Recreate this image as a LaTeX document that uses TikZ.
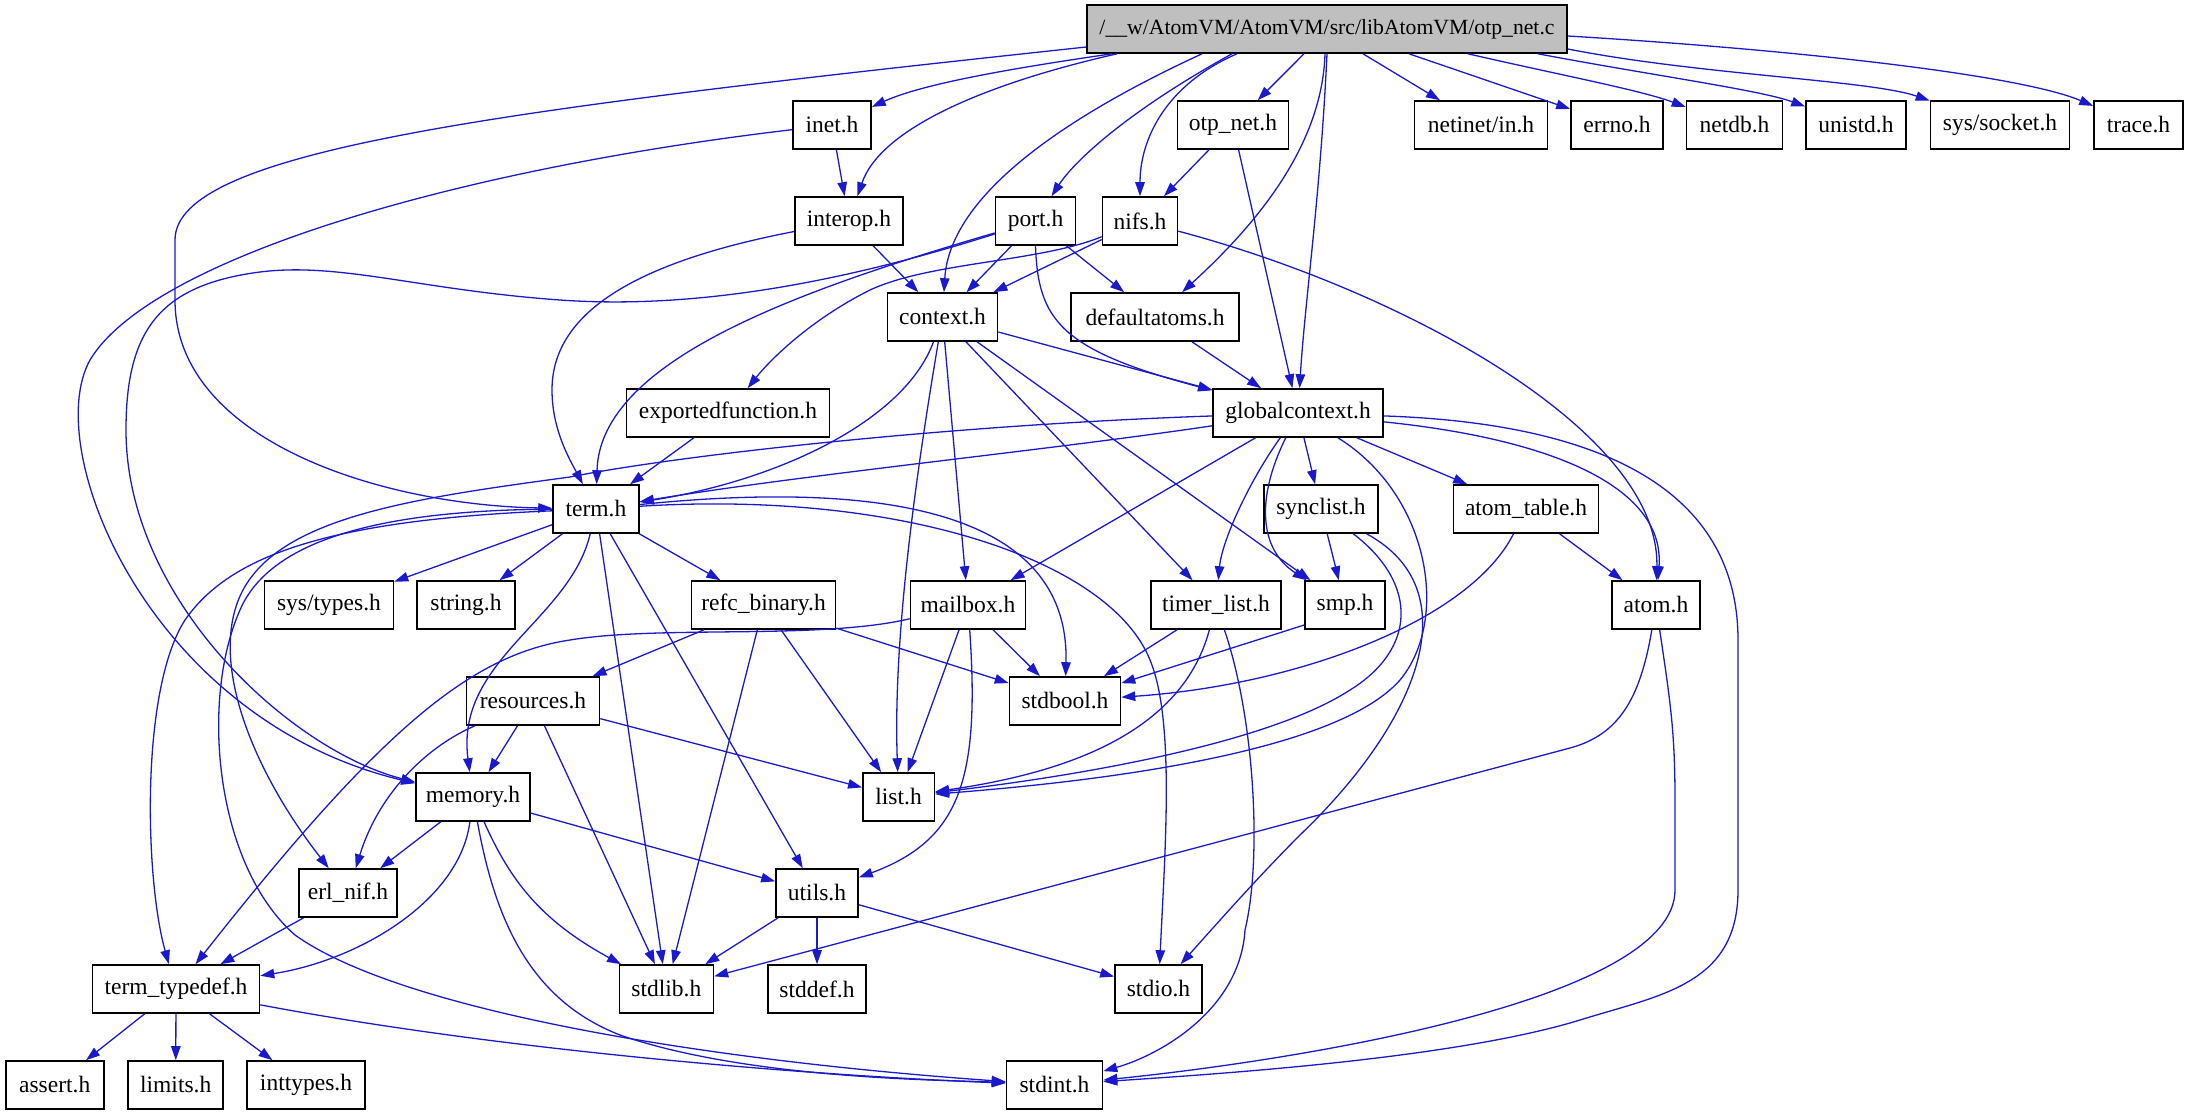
\documentclass[tikz,border=0pt]{standalone}
\usepackage{fontspec}
\setmainfont{Liberation Serif}
\usetikzlibrary{arrows.meta}
\definecolor{eblue}{RGB}{26,26,204}
\definecolor{rootgray}{RGB}{191,191,191}
\begin{document}
\begin{tikzpicture}[x=1pt,y=-1pt,
  box/.style={draw=black,line width=1.6pt,fill=white,minimum height=48pt,inner sep=0pt,font=\fontsize{23.5}{28}\selectfont},
  e/.style={draw=eblue,line width=1.3pt,-{Triangle[length=14pt,width=9.5pt]}}]
\useasboundingbox (0,0) rectangle (2189,1115);
% row 0
\node[box,minimum width=480pt,fill=rootgray,font=\fontsize{21.7}{26}\selectfont] (root) at (1327,29) {/\_\_w/AtomVM/AtomVM/src/libAtomVM/otp\_net.c};
% row 1
\node[box,minimum width=78pt] (inet) at (832,125) {inet.h};
\node[box,minimum width=111pt] (otpneth) at (1233,125) {otp\_net.h};
\node[box,minimum width=133pt] (netinet) at (1481,125) {netinet/in.h};
\node[box,minimum width=92pt] (errno) at (1617,125) {errno.h};
\node[box,minimum width=96pt] (netdb) at (1734.5,125) {netdb.h};
\node[box,minimum width=100pt] (unistd) at (1856,125) {unistd.h};
\node[box,minimum width=139pt] (syssocket) at (2000,125) {sys/socket.h};
\node[box,minimum width=89pt] (trace) at (2138.5,125) {trace.h};
% row 2
\node[box,minimum width=108pt] (interop) at (849,221) {interop.h};
\node[box,minimum width=80pt] (port) at (1035.5,221) {port.h};
\node[box,minimum width=75pt] (nifs) at (1140,221) {nifs.h};
% row 3
\node[box,minimum width=110pt] (context) at (942.5,317) {context.h};
\node[box,minimum width=168pt] (defaultatoms) at (1155,317) {defaultatoms.h};
% row 4
\node[box,minimum width=203pt] (exportedfunction) at (728,413) {exportedfunction.h};
\node[box,minimum width=170pt] (globalcontext) at (1298,413) {globalcontext.h};
% row 5
\node[box,minimum width=86pt] (term) at (596,509) {term.h};
\node[box,minimum width=114pt] (synclist) at (1321,509) {synclist.h};
\node[box,minimum width=145pt] (atomtable) at (1526,509) {atom\_table.h};
% row 6
\node[box,minimum width=129pt] (systypes) at (329,605) {sys/types.h};
\node[box,minimum width=98pt] (string) at (466,605) {string.h};
\node[box,minimum width=144pt] (refc) at (763.6,605) {refc\_binary.h};
\node[box,minimum width=115pt] (mailbox) at (968,605) {mailbox.h};
\node[box,minimum width=130pt] (timerlist) at (1216,605) {timer\_list.h};
\node[box,minimum width=80pt] (smp) at (1345,605) {smp.h};
\node[box,minimum width=88pt] (atom) at (1656,605) {atom.h};
% row 7
\node[box,minimum width=133pt] (resources) at (533,701) {resources.h};
\node[box,minimum width=111pt] (stdbool) at (1065,701) {stdbool.h};
% row 8
\node[box,minimum width=114pt] (memory) at (473,797) {memory.h};
\node[box,minimum width=71.5pt] (list) at (898.6,797) {list.h};
% row 9
\node[box,minimum width=98pt] (erlnif) at (348,893) {erl\_nif.h};
\node[box,minimum width=82pt] (utils) at (817,893) {utils.h};
% row 10
\node[box,minimum width=167pt] (termtypedef) at (176,989) {term\_typedef.h};
\node[box,minimum width=94pt] (stdlib) at (666.4,989) {stdlib.h};
\node[box,minimum width=98pt] (stddef) at (817,989) {stddef.h};
\node[box,minimum width=87pt] (stdio) at (1158.5,989) {stdio.h};
% row 11
\node[box,minimum width=98pt] (assert) at (54.7,1085) {assert.h};
\node[box,minimum width=95pt] (limits) at (175.7,1085) {limits.h};
\node[box,minimum width=118pt] (inttypes) at (306,1085) {inttypes.h};
\node[box,minimum width=96pt] (stdint) at (1054.5,1085) {stdint.h};

% ---- edges from root
\draw[e] ([yshift=-18pt]root.west) .. controls (500,110) and (175,150) .. (175,240) -- (175,300) .. controls (175,440) and (380,505) .. (term);
\draw[e] ([xshift=-215pt]root.south) .. controls (1000,70) and (920,85) .. (inet);
\draw[e] ([xshift=-210pt]root.south) .. controls (980,85) and (880,130) .. (interop);
\draw[e] ([xshift=-125pt]root.south) .. controls (1080,110) and (950,190) .. (context);
\draw[e] ([xshift=-95pt]root.south) .. controls (1130,110) and (1075,160) .. (port);
\draw[e] ([xshift=-90pt]root.south) .. controls (1165,85) and (1140,140) .. (nifs);
\draw[e] ([xshift=-23pt]root.south) -- (otpneth);
\draw[e] ([xshift=-2pt]root.south) .. controls (1322,150) and (1250,230) .. (defaultatoms);
\draw[e] (root.south) .. controls (1320,200) and (1305,300) .. (globalcontext);
\draw[e] ([xshift=36pt]root.south) -- (netinet);
\draw[e] ([xshift=82pt]root.south) -- (errno);
\draw[e] ([xshift=141pt]root.south) .. controls (1560,75) and (1640,90) .. (netdb);
\draw[e] ([xshift=211pt]root.south) .. controls (1650,75) and (1760,90) .. (unistd);
\draw[e] ([yshift=-20pt]root.east) .. controls (1700,75) and (1870,80) .. (syssocket);
\draw[e] ([yshift=-7pt]root.east) .. controls (1800,50) and (2020,75) .. (trace);

% ---- inet
\draw[e] (inet) -- (interop);
\draw[e] (inet) .. controls (450,170) and (150,260) .. (90,360) .. controls (40,450) and (150,720) .. (memory);
% ---- port
\draw[e] (port) -- (context);
\draw[e] (port) -- (defaultatoms);
\draw[e] (port.south) .. controls (1038,320) and (1060,350) .. (globalcontext);
\draw[e] (port) .. controls (800,290) and (600,360) .. (term);
\draw[e] (port) .. controls (850,280) and (700,310) .. (560,300) .. controls (420,290) and (340,262) .. (260,272) .. controls (160,285) and (126,330) .. (126,430) .. controls (126,600) and (290,750) .. (memory);
% ---- nifs
\draw[e] (nifs) -- (context);
\draw[e] (nifs) .. controls (1040,262) and (930,262) .. (870,290) .. controls (810,320) and (770,360) .. (exportedfunction);
\draw[e] (nifs) .. controls (1400,290) and (1660,430) .. (atom);
% ---- otp_net.h
\draw[e] (otpneth) -- (nifs);
\draw[e] (otpneth) -- (globalcontext);
% ---- interop
\draw[e] (interop) -- (context);
\draw[e] (interop) .. controls (620,265) and (552,320) .. (552,390) .. controls (552,430) and (570,460) .. (term);
% ---- context
\draw[e] (context) -- (globalcontext);
\draw[e] (context) .. controls (905,420) and (780,480) .. (term);
\draw[e] (context) .. controls (915,480) and (893,640) .. (list);
\draw[e] (context) -- (mailbox);
\draw[e] (context) -- (timerlist);
\draw[e] (context) -- (smp);
% ---- defaultatoms, exportedfunction
\draw[e] (defaultatoms) -- (globalcontext);
\draw[e] (exportedfunction) -- (term);
% ---- globalcontext
\draw[e] (globalcontext) .. controls (1050,450) and (800,475) .. (term);
\draw[e] (globalcontext) .. controls (950,425) and (680,455) .. (570,477) .. controls (400,500) and (260,520) .. (235,610) .. controls (215,680) and (260,780) .. (erlnif);
\draw[e] (globalcontext) -- (mailbox);
\draw[e] (globalcontext) .. controls (1250,480) and (1222,540) .. (timerlist);
\draw[e] (globalcontext) .. controls (1255,500) and (1260,550) .. (smp);
\draw[e] (globalcontext) -- (synclist);
\draw[e] (globalcontext) .. controls (1430,495) and (1450,620) .. (1400,680) .. controls (1330,760) and (1050,785) .. (list);
\draw[e] (globalcontext) -- (atomtable);
\draw[e] (globalcontext) .. controls (1560,440) and (1665,490) .. (atom);
\draw[e] (globalcontext) .. controls (1650,425) and (1738,520) .. (1738,640) -- (1738,890) .. controls (1738,985) and (1660,995) .. (1580,1020) .. controls (1450,1060) and (1200,1075) .. (stdint);
% ---- synclist
\draw[e] (synclist) -- (smp);
\draw[e] (synclist) .. controls (1420,585) and (1415,650) .. (1350,690) .. controls (1250,755) and (1000,785) .. (list);
\draw[e] (synclist) .. controls (1470,590) and (1420,720) .. (1300,835) .. controls (1260,875) and (1220,920) .. (stdio);
% ---- term
\draw[e] (term) -- (systypes);
\draw[e] (term) -- (string);
\draw[e] (term) -- (refc);
\draw[e] (term) .. controls (330,520) and (230,555) .. (185,620) .. controls (140,690) and (145,880) .. (termtypedef);
\draw[e] (term) .. controls (380,510) and (270,540) .. (240,610) .. controls (200,700) and (215,865) .. (295,935) .. controls (400,1010) and (700,1060) .. (stdint);
\draw[e] (term) .. controls (570,620) and (455,660) .. (memory);
\draw[e] (term) -- (stdlib);
\draw[e] (term) -- (utils);
\draw[e] (term) .. controls (880,480) and (1070,510) .. (stdbool);
\draw[e] (term) .. controls (900,490) and (1110,560) .. (1150,660) .. controls (1175,720) and (1165,850) .. (stdio);
% ---- refc_binary
\draw[e] (refc) -- (resources);
\draw[e] (refc) -- (stdbool);
\draw[e] (refc) -- (stdlib);
\draw[e] (refc) -- (list);
% ---- mailbox
\draw[e] (mailbox) .. controls (820,640) and (660,625) .. (570,640) .. controls (470,655) and (380,730) .. (termtypedef);
\draw[e] (mailbox) -- (list);
\draw[e] (mailbox) -- (stdbool);
\draw[e] (mailbox) .. controls (980,780) and (960,840) .. (utils);
% ---- timer_list
\draw[e] (timerlist) -- (stdbool);
\draw[e] (timerlist) .. controls (1180,740) and (1050,775) .. (list);
\draw[e] (timerlist) .. controls (1255,720) and (1262,860) .. (1245,930) .. controls (1240,1010) and (1160,1055) .. (stdint);
% ---- smp
\draw[e] ([yshift=-20pt]smp.west) -- (stdbool);
% ---- atom_table
\draw[e] (atomtable) .. controls (1470,620) and (1300,685) .. (stdbool);
\draw[e] (atomtable) -- (atom);
% ---- atom
\draw[e] (atom) .. controls (1640,700) and (1618,735) .. (1570,748) -- (stdlib);
\draw[e] (atom) .. controls (1670,700) and (1675,730) .. (1675,800) -- (1675,890) .. controls (1675,1000) and (1300,1060) .. (stdint);
% ---- resources
\draw[e] (resources) .. controls (430,745) and (380,790) .. (erlnif);
\draw[e] (resources) -- (memory);
\draw[e] (resources) -- (stdlib);
\draw[e] (resources) -- (list);
% ---- memory
\draw[e] (memory) -- (erlnif);
\draw[e] (memory) -- (utils);
\draw[e] (memory) .. controls (460,900) and (360,960) .. (termtypedef);
\draw[e] (memory) .. controls (510,880) and (540,920) .. (stdlib);
\draw[e] (memory) .. controls (495,920) and (530,1000) .. (620,1035) .. controls (750,1080) and (950,1080) .. (stdint);
% ---- erl_nif, utils
\draw[e] (erlnif) -- (termtypedef);
\draw[e] (utils) -- (stdlib);
\draw[e] (utils) -- (stddef);
\draw[e] (utils) -- (stdio);
% ---- term_typedef
\draw[e] (termtypedef) -- (assert);
\draw[e] (termtypedef) -- (limits);
\draw[e] (termtypedef) -- (inttypes);
\draw[e] (termtypedef) .. controls (500,1050) and (800,1075) .. (stdint);
\end{tikzpicture}
\end{document}
